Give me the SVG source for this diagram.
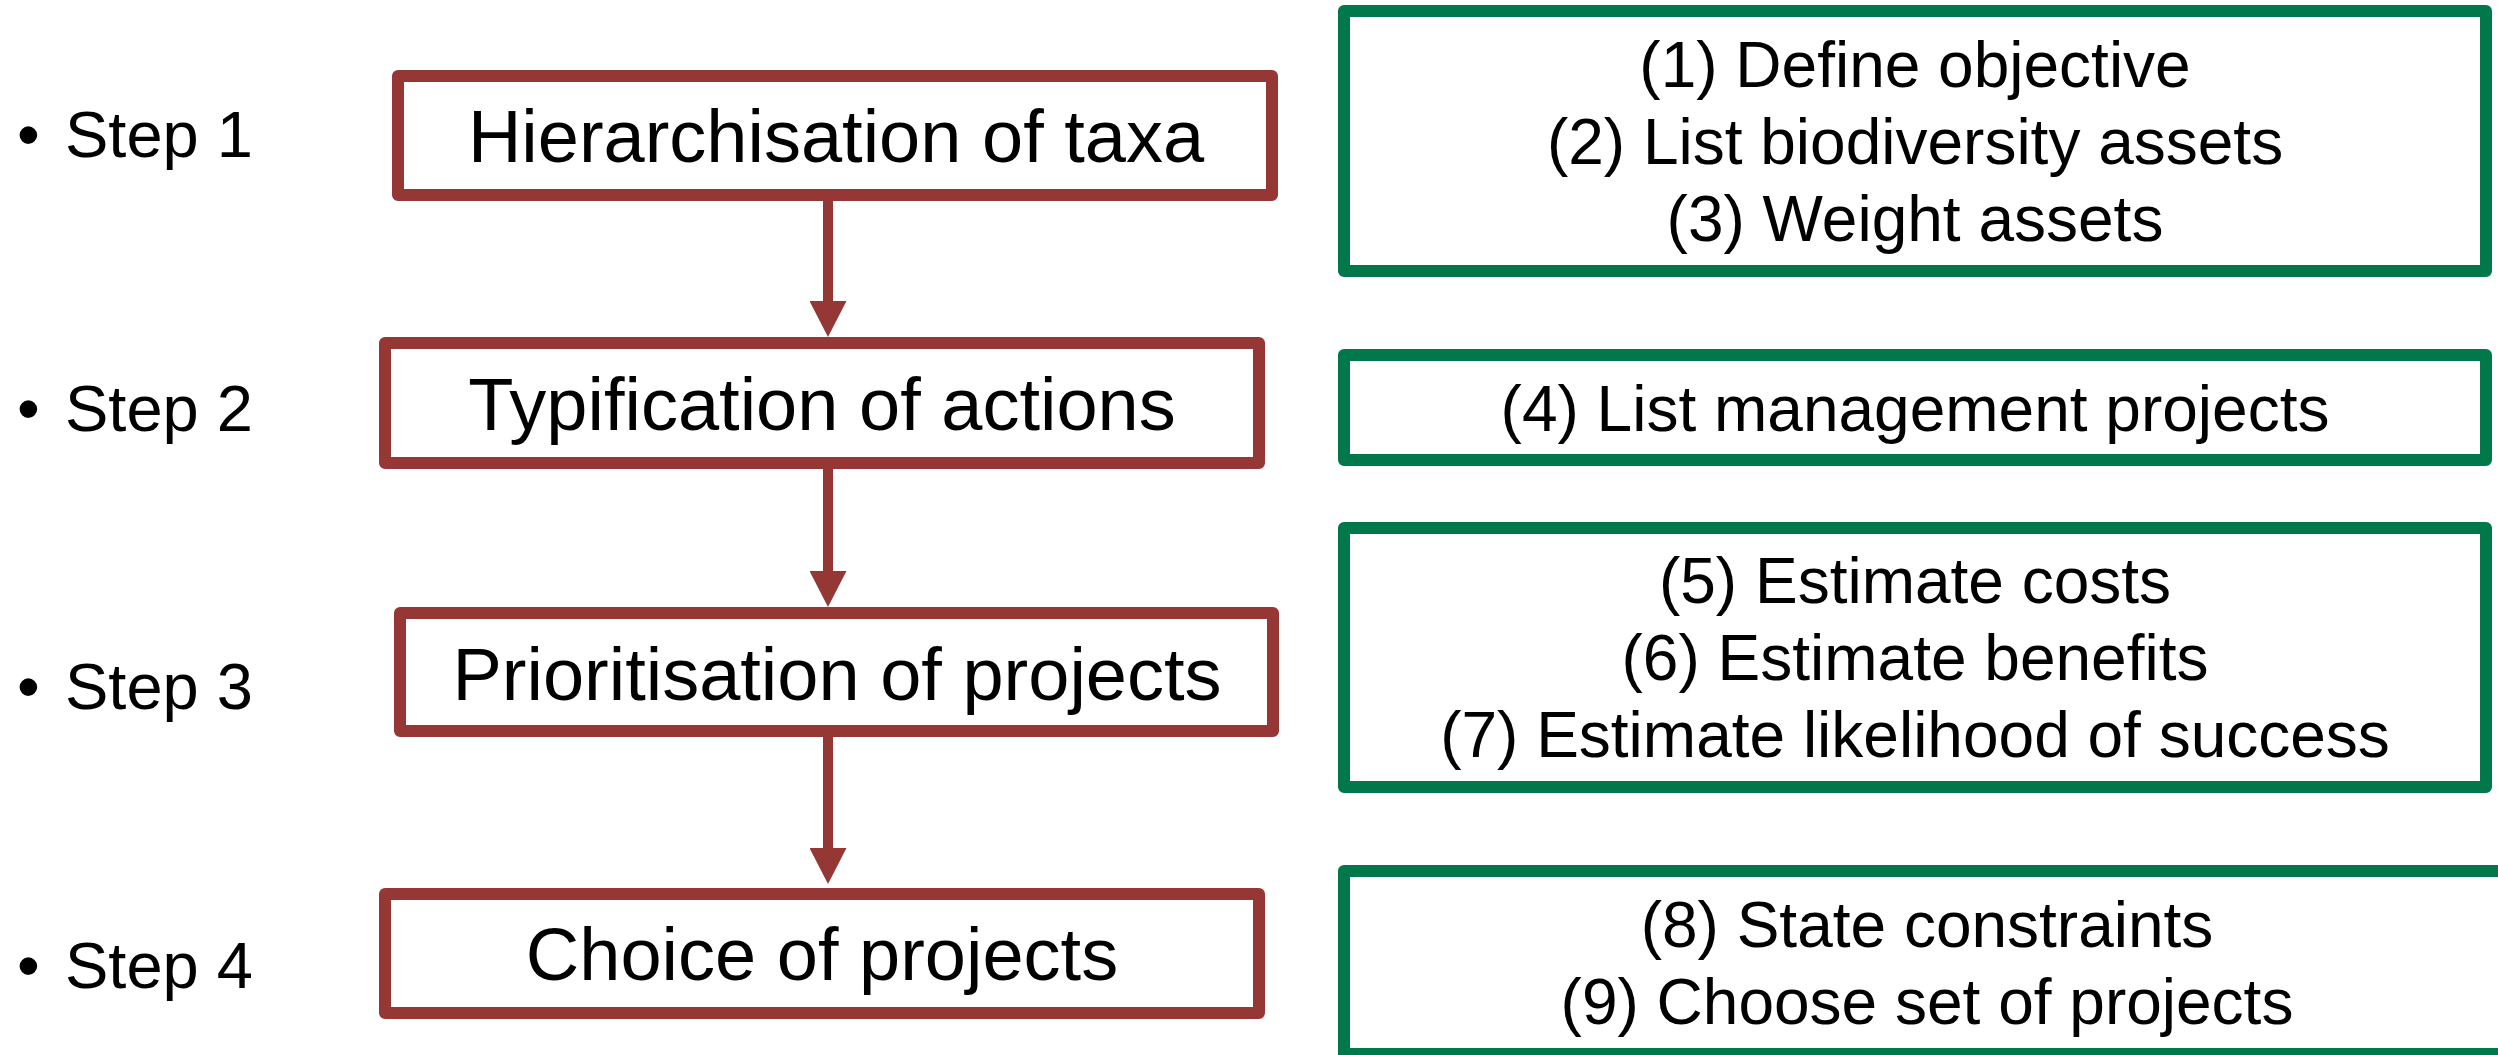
<svg xmlns="http://www.w3.org/2000/svg" width="2498" height="1055" viewBox="0 0 2498 1055">
  <style>
    .step { fill: none; stroke: #953735; stroke-width: 12; stroke-linejoin: round; }
    .task { fill: none; stroke: #00784A; stroke-width: 12; stroke-linejoin: round; }
    .lbl { font-family: "Liberation Sans", Arial, sans-serif; fill: #000; }
    .big { font-size: 74px; text-anchor: middle; }
    .mid { font-size: 64px; text-anchor: middle; }
    .side { font-size: 65px; }
    .conn { stroke: #953735; stroke-width: 10; fill: none; }
  </style>
  <defs>
    <marker id="arrow" markerUnits="userSpaceOnUse" viewBox="0 0 36 37" markerWidth="36" markerHeight="37" refX="1" refY="18.5" orient="auto">
      <path d="M0,0 L36,18.5 L0,37 Z" fill="#953735"/>
    </marker>
  </defs>
  <rect width="2498" height="1055" fill="#fff"/>

  <g id="labels">
    <text class="lbl side" y="157"><tspan x="17">•</tspan><tspan x="65">Step 1</tspan></text>
    <text class="lbl side" y="431"><tspan x="17">•</tspan><tspan x="65">Step 2</tspan></text>
    <text class="lbl side" y="709"><tspan x="17">•</tspan><tspan x="65">Step 3</tspan></text>
    <text class="lbl side" y="988"><tspan x="17">•</tspan><tspan x="65">Step 4</tspan></text>
  </g>

  <g id="connectors">
    <line class="conn" x1="828" y1="201" x2="828" y2="302" marker-end="url(#arrow)"/>
    <line class="conn" x1="828" y1="469" x2="828" y2="572" marker-end="url(#arrow)"/>
    <line class="conn" x1="828" y1="737" x2="828" y2="849" marker-end="url(#arrow)"/>
  </g>

  <g id="step1">
    <rect class="step" x="398" y="76" width="874" height="119"/>
    <text class="lbl big" x="836" y="162">Hierarchisation of taxa</text>
  </g>
  <g id="step2">
    <rect class="step" x="385" y="343" width="874" height="120"/>
    <text class="lbl big" x="822" y="430">Typification of actions</text>
  </g>
  <g id="step3">
    <rect class="step" x="400" y="613" width="873" height="118"/>
    <text class="lbl big" x="837" y="700">Prioritisation of projects</text>
  </g>
  <g id="step4">
    <rect class="step" x="385" y="894" width="874" height="119"/>
    <text class="lbl big" x="822" y="980">Choice of projects</text>
  </g>

  <g id="tasks1">
    <rect class="task" x="1344" y="11" width="1142" height="260"/>
    <text class="lbl mid" x="1915" y="87">(1) Define objective</text>
    <text class="lbl mid" x="1915" y="164">(2) List biodiversity assets</text>
    <text class="lbl mid" x="1915" y="241">(3) Weight assets</text>
  </g>
  <g id="tasks2">
    <rect class="task" x="1344" y="355" width="1142" height="105"/>
    <text class="lbl mid" x="1915" y="431">(4) List management projects</text>
  </g>
  <g id="tasks3">
    <rect class="task" x="1344" y="528" width="1142" height="259"/>
    <text class="lbl mid" x="1915" y="603">(5) Estimate costs</text>
    <text class="lbl mid" x="1915" y="680">(6) Estimate benefits</text>
    <text class="lbl mid" x="1915" y="757">(7) Estimate likelihood of success</text>
  </g>
  <g id="tasks4">
    <rect class="task" x="1344" y="871" width="1200" height="183"/>
    <text class="lbl mid" x="1927" y="947">(8) State constraints</text>
    <text class="lbl mid" x="1927" y="1024">(9) Choose set of projects</text>
  </g>
</svg>
